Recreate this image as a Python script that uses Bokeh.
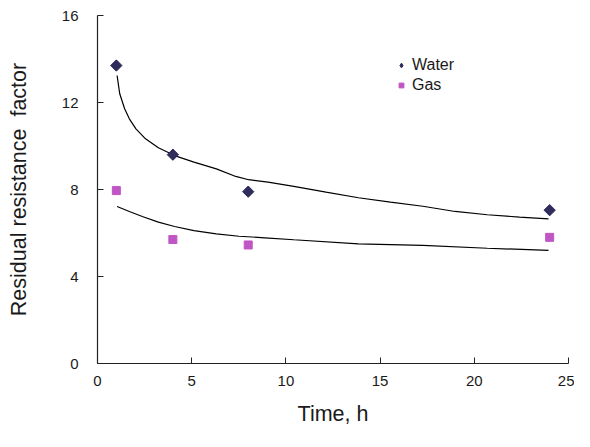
import math
from bokeh.plotting import figure
from bokeh.models import Range1d, Legend, LegendItem
from bokeh.embed import file_html
from bokeh.resources import INLINE

# Measured data points
time_h = [1, 4, 8, 24]
water = [13.7, 9.6, 7.9, 7.05]
gas = [7.95, 5.7, 5.45, 5.8]

# Trend curves
water_fit_x = [1.04, 1.18, 1.44, 1.69, 2.04, 2.55, 3.23, 4.09, 5.12, 6.31, 7.34, 8.02, 9.05,
               10.42, 12.13, 13.85, 15.55, 17.27, 18.98, 20.69, 22.40, 23.94]
water_fit_y = [13.24, 12.40, 11.71, 11.25, 10.79, 10.33, 9.92, 9.56, 9.26, 8.95, 8.60, 8.45, 8.34,
               8.14, 7.88, 7.62, 7.42, 7.23, 6.99, 6.84, 6.73, 6.65]
gas_fit_x = [1.04, 1.69, 2.38, 3.23, 4.09, 5.12, 6.31, 7.51, 8.88, 10.42, 13.85, 17.27, 20.69, 23.94]
gas_fit_y = [7.22, 6.99, 6.76, 6.50, 6.30, 6.11, 5.96, 5.85, 5.78, 5.69, 5.50, 5.43, 5.30, 5.20]

x_ticks = [0, 5, 10, 15, 20, 25]
y_ticks = [0, 4, 8, 12, 16]

FONT = "Liberation Sans"
TXT = "#1a1a1a"
WATER_C = "#302c5c"
GAS_C = "#c055c4"

p = figure(width=574, height=431, output_backend="svg", toolbar_location=None,
           x_range=Range1d(0, 25), y_range=Range1d(0, 16),
           min_border_left=97, min_border_right=6, min_border_top=15, min_border_bottom=68)
p.xgrid.visible = False
p.ygrid.visible = False
p.outline_line_color = None
p.background_fill_color = "white"
p.border_fill_color = "white"

for ax in (p.xaxis[0], p.yaxis[0]):
    ax.major_tick_in = 6
    ax.major_tick_out = 0
    ax.minor_tick_in = 0
    ax.minor_tick_out = 0
    ax.axis_line_color = "#222222"
    ax.major_tick_line_color = "#222222"
    ax.axis_line_width = 1.2
    ax.major_label_text_font = FONT
    ax.major_label_text_font_size = "15px"
    ax.major_label_text_color = TXT
    ax.axis_label_text_font = FONT
    ax.axis_label_text_font_size = "21.5px"
    ax.axis_label_text_font_style = "normal"
    ax.axis_label_text_color = TXT

p.xaxis.ticker = x_ticks
p.yaxis.ticker = y_ticks
p.xaxis.axis_label = "Time, h"
p.yaxis.axis_label = "Residual resistance\u00a0 factor"
p.xaxis.major_label_standoff = 12
p.yaxis.major_label_standoff = 19
p.xaxis.axis_label_standoff = 13
p.yaxis.axis_label_standoff = 28

p.line(water_fit_x, water_fit_y, line_color="black", line_width=1.2)
p.line(gas_fit_x, gas_fit_y, line_color="black", line_width=1.2)

# diamond glyph (used for the legend swatch), fully covered by the rotated square on top
lw = p.scatter(time_h, water, marker="diamond", size=10, fill_color=WATER_C, line_color=WATER_C)
p.scatter(time_h, water, marker="square", size=8, angle=math.pi / 4,
          fill_color=WATER_C, line_color=WATER_C)
lg = p.scatter(time_h, gas, marker="square", size=8, fill_color=GAS_C, line_color=GAS_C)

legend = Legend(items=[LegendItem(label="Water", renderers=[lw]),
                       LegendItem(label="Gas", renderers=[lg])],
                location=(298, 268), orientation="vertical",
                border_line_color=None, background_fill_alpha=0,
                padding=0, margin=0, spacing=0,
                glyph_width=12, glyph_height=20, label_height=20, label_standoff=5,
                label_text_font=FONT, label_text_font_size="16px", label_text_color=TXT)
p.add_layout(legend)

open("out.html", "w").write(file_html(p, INLINE))
